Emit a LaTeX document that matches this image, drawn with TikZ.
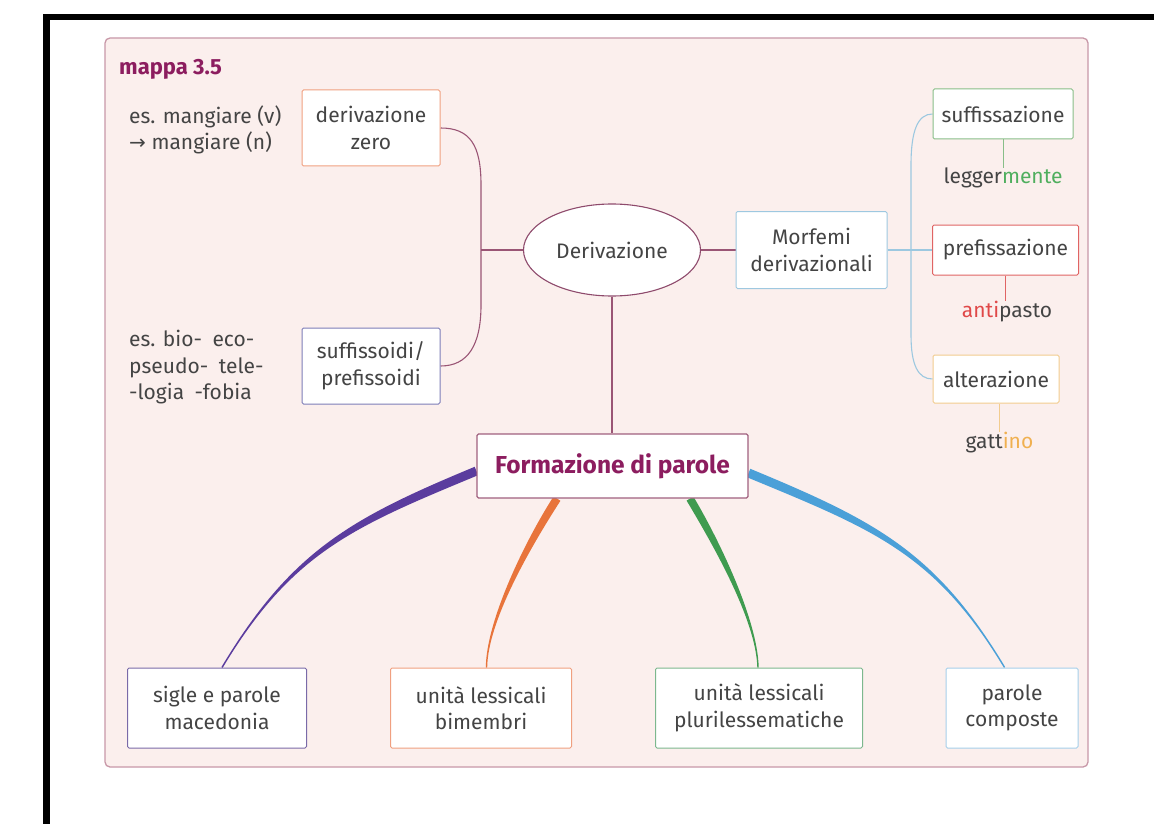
\documentclass[tikz,border=0pt]{standalone}
\usepackage{fontspec}
\setmainfont{Fira Sans}
\newfontfamily\arrowfont{DejaVu Sans}
\usetikzlibrary{shapes.geometric,calc}
\pgfdeclarelayer{back}
\pgfdeclarelayer{mid}
\pgfsetlayers{back,mid,main}
\definecolor{txt}{HTML}{444444}
\definecolor{mag}{HTML}{8C1D5F}
\definecolor{mauve}{HTML}{9A5575}
\definecolor{panelfill}{HTML}{FBEFED}
\definecolor{panelline}{HTML}{C898A8}
\definecolor{cdz}{HTML}{F0A080}
\definecolor{css}{HTML}{7D7DB8}
\definecolor{cmor}{HTML}{9EC8E0}
\definecolor{csuf}{HTML}{88BE88}
\definecolor{cpre}{HTML}{E06464}
\definecolor{calt}{HTML}{F2CC8E}
\definecolor{cF}{HTML}{A0607E}
\definecolor{csig}{HTML}{7A6AA8}
\definecolor{cbim}{HTML}{F0A080}
\definecolor{cplu}{HTML}{7DB88E}
\definecolor{ccomp}{HTML}{A6CFEA}
\definecolor{cell}{HTML}{8E4A6C}
\definecolor{lblue}{HTML}{9CC8E0}
\definecolor{wpurp}{HTML}{5B3C9E}
\definecolor{worange}{HTML}{E8743B}
\definecolor{wgreen}{HTML}{3F9B50}
\definecolor{wblue}{HTML}{4BA0D8}
\definecolor{tgreen}{HTML}{4FAE5E}
\definecolor{tred}{HTML}{E04848}
\definecolor{torange}{HTML}{F0B050}
\begin{document}
\begin{tikzpicture}[x=1pt,y=-1pt,
  txtfont/.style={font=\fontsize{21}{26.5}\selectfont},
  box/.style={draw, fill=white, line width=1pt, rounded corners=1.5pt, align=center, text=txt, inner sep=0pt, txtfont},
  note/.style={text=txt, inner sep=0pt, txtfont},
  mline/.style={draw=mauve, line width=1.1pt},
  bline/.style={draw=lblue, line width=1.1pt}]
\useasboundingbox (0,0) rectangle (1154,824);
\begin{pgfonlayer}{back}
\fill[white] (0,0) rectangle (1154,824);
% black frame (top and left)
\draw[line width=6pt] (43,17.5) -- (1154,17.5);
\draw[line width=7pt] (46.5,14.5) -- (46.5,824);
% panel
\draw[draw=panelline, fill=panelfill, line width=1.3pt, rounded corners=5pt] (105,38) rectangle (1088,767);
\end{pgfonlayer}
\node[anchor=base west, inner sep=0pt, text=mag, font=\bfseries\fontsize{22}{26}\selectfont] (map) at (119,75) {mappa 3.5};
% examples
\node[note, anchor=west, align=left] (ex1) at (129,130) {es. mangiare (v)\\{\arrowfont\fontsize{20}{26.5}\selectfont →} mangiare (n)};
\node[note, anchor=west, align=left] (ex2) at (129,367.5) {es. bio-\enspace eco-\\pseudo-\enspace tele-\\-logia\enspace -fobia};
% nodes
\node[box, draw=cdz, minimum width=138pt, minimum height=76pt] (dz) at (371,128) {derivazione\\zero};
\node[box, draw=css, minimum width=138pt, minimum height=76pt] (ss) at (371,366) {suffissoidi/\\prefissoidi};
\node[ellipse, draw=cell, fill=white, line width=1.1pt, minimum width=177pt, minimum height=92pt, inner sep=0pt, text=txt, txtfont] (der) at (612,250) {Derivazione};
\node[box, draw=cmor, minimum width=151pt, minimum height=77pt] (mor) at (811.5,250) {Morfemi\\derivazionali};
\node[box, draw=csuf, minimum width=140pt, minimum height=50pt] (suf) at (1003,114) {suffissazione};
\node[box, draw=cpre, minimum width=146pt, minimum height=50pt] (pre) at (1005.5,250) {prefissazione};
\node[box, draw=calt, minimum width=126pt, minimum height=48pt] (alt) at (996,379) {alterazione};
\node[note] (legg) at (1003,178) {legger\textcolor{tgreen}{mente}};
\node[note] (anti) at (1007,312) {\textcolor{tred}{anti}pasto};
\node[note] (gatt) at (999.5,443) {gatt\textcolor{torange}{ino}};
\node[box, draw=csig, minimum width=179pt, minimum height=80pt] (sig) at (217,708) {sigle e parole\\macedonia};
\node[box, draw=cbim, minimum width=181pt, minimum height=80pt] (bim) at (481,708) {unità lessicali\\bimembri};
\node[box, draw=cplu, minimum width=207pt, minimum height=80pt] (plu) at (759,708) {unità lessicali\\plurilessematiche};
\node[box, draw=ccomp, minimum width=132pt, minimum height=80pt] (comp) at (1012,708) {parole\\composte};
\node[box, draw=cF, line width=1.2pt, minimum width=271pt, minimum height=64pt, text=mag, font=\bfseries\fontsize{24.5}{28}\selectfont] (F) at (612.5,466) {Formazione di parole};
% thin connectors
\begin{pgfonlayer}{mid}
\coordinate (lb1) at (481,185);
\coordinate (lb2) at (481,305);
\draw[mline] (dz.east) .. controls (470,128) and (481,145) .. (lb1) -- (lb2) .. controls (481,345) and (468,366) .. (ss.east);
\draw[mline] (der.west -| lb1) -- (der.west);
\draw[mline] (der.east) -- (mor.west);
\coordinate (rb1) at (911,165);
\coordinate (rb2) at (911,335);
\draw[bline] (suf.west) .. controls (918,114) and (911,130) .. (rb1) -- (rb2) .. controls (911,365) and (918,379) .. (alt.west);
\draw[bline] (mor.east) -- (pre.west);
\draw[draw=csuf, line width=1pt] (suf.south -| legg.north) -- (legg.north);
\draw[draw=cpre, line width=1pt] (pre.south) -- (pre.south |- anti.north);
\draw[draw=calt, line width=1pt] (alt.south -| gatt.north) -- (gatt.north);
\draw[mline] (der.south) -- (der.south |- F.north);
% tapered connectors
\coordinate (pu0) at ($(F.west)+(0,5)$);
\coordinate (pu3) at ($(sig.north)+(5,0)$);
\coordinate (or0) at ($(F.south)+(-55.5,0)$);
\coordinate (or3) at ($(bim.north)+(5.5,0)$);
\coordinate (gr0) at ($(F.south)+(77.5,0)$);
\coordinate (gr3) at ($(plu.north)+(-1,0)$);
\coordinate (bl0) at ($(F.east)+(0,7)$);
\coordinate (bl3) at ($(comp.north)+(-7.4,0)$);
\fill[wpurp] ($(pu0)+(1.7,4.2)$) .. controls ($(pu0)+(-123,55.9)$) and ($(pu3)+(70,-115.3)$) .. ($(pu3)+(0.6,0.4)$) -- ($(pu3)+(-0.6,-0.4)$) .. controls ($(pu3)+(68.8,-116.1)$) and ($(pu0)+(-126.4,47.5)$) .. ($(pu0)+(-1.7,-4.2)$) -- cycle;
\fill[worange] ($(or0)+(3.4,2.2)$) .. controls ($(or0)+(-23.6,44.2)$) and ($(or3)+(1.2,-48)$) .. ($(or3)+(0.7,0)$) -- ($(or3)+(-0.7,0)$) .. controls ($(or3)+(-0.2,-48)$) and ($(or0)+(-30.4,39.8)$) .. ($(or0)+(-3.4,-2.2)$) -- cycle;
\fill[wgreen] ($(gr0)+(-3.4,2.0)$) .. controls ($(gr0)+(21.6,44)$) and ($(gr3)+(-1.7,-48)$) .. ($(gr3)+(-0.7,0)$) -- ($(gr3)+(0.7,0)$) .. controls ($(gr3)+(-0.3,-48)$) and ($(gr0)+(28.4,40)$) .. ($(gr0)+(3.4,-2.0)$) -- cycle;
\fill[wblue] ($(bl0)+(-1.7,4.2)$) .. controls ($(bl0)+(123,55.9)$) and ($(bl3)+(-70,-115.3)$) .. ($(bl3)+(-0.6,0.4)$) -- ($(bl3)+(0.6,-0.4)$) .. controls ($(bl3)+(-68.8,-116.1)$) and ($(bl0)+(126.4,47.5)$) .. ($(bl0)+(1.7,-4.2)$) -- cycle;
\end{pgfonlayer}
\end{tikzpicture}
\end{document}
